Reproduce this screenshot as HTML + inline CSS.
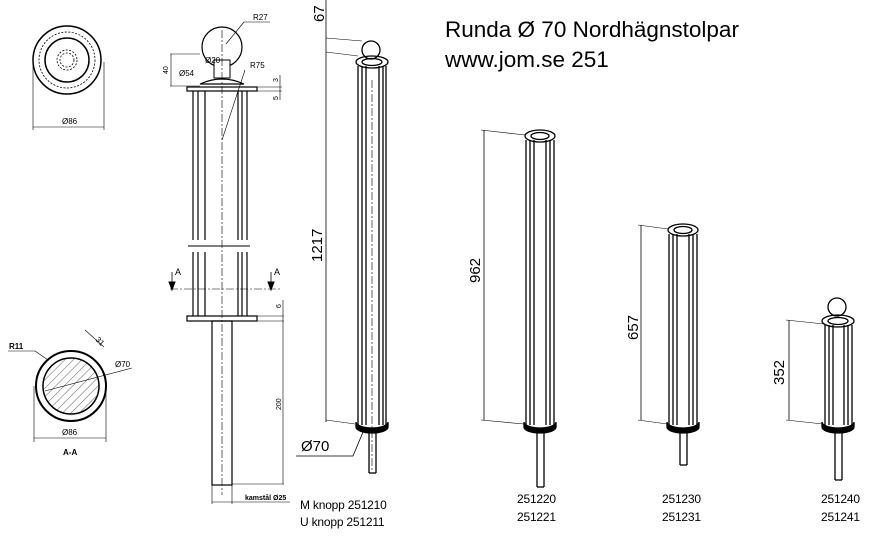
<!DOCTYPE html>
<html><head><meta charset="utf-8"><style>
html,body{margin:0;padding:0;background:#fff}
svg{display:block}
</style></head><body>
<svg width="879" height="538" viewBox="0 0 879 538" xmlns="http://www.w3.org/2000/svg" font-family="Liberation Sans, sans-serif" stroke="#000" fill="none" stroke-width="1">
<!-- top view -->
<circle cx="67" cy="60" r="34" stroke-width="1.5"/>
<circle cx="67" cy="60" r="28" stroke-dasharray="2,1.5" stroke-width="0.8"/>
<circle cx="67" cy="60" r="22" stroke-width="1.5"/>
<circle cx="67" cy="60" r="10" stroke-dasharray="2,1.5" stroke-width="0.8"/>
<circle cx="67" cy="60" r="7" stroke-dasharray="2,1.5" stroke-width="0.8"/>
<line x1="33" y1="62" x2="33" y2="130" stroke-width="0.6"/><line x1="104" y1="62" x2="104" y2="130" stroke-width="0.6"/>
<line x1="33" y1="127" x2="104" y2="127" stroke-width="0.6"/>
<text x="62" y="124" font-size="8" fill="#000" stroke="none">Ø86</text>
<!-- section A-A -->
<circle cx="71" cy="386" r="35" stroke-width="2"/>
<defs><pattern id="h" width="6" height="6" patternUnits="userSpaceOnUse" patternTransform="rotate(45)"><line x1="0" y1="0" x2="0" y2="6" stroke="#000" stroke-width="0.6"/></pattern></defs>
<circle cx="71" cy="386" r="28" fill="url(#h)" stroke-width="1.5"/>
<line x1="34" y1="386" x2="34" y2="442" stroke-width="0.6"/><line x1="106" y1="386" x2="106" y2="442" stroke-width="0.6"/>
<line x1="34" y1="438" x2="106" y2="438" stroke-width="0.6"/>
<text x="62" y="435" font-size="8" fill="#000" stroke="none">Ø86</text>
<text x="63" y="455" font-size="8" font-weight="bold" fill="#000" stroke="none">A-A</text>
<line x1="8" y1="351" x2="35" y2="351" stroke-width="0.6"/><line x1="35" y1="351" x2="48" y2="360" stroke-width="0.6"/>
<text x="9" y="349" font-size="8" font-weight="bold" fill="#000" stroke="none">R11</text>
<line x1="85" y1="330" x2="104" y2="347" stroke-width="0.6"/><line x1="45" y1="391" x2="132" y2="368" stroke-width="0.6"/>
<text x="115" y="367" font-size="8" fill="#000" stroke="none">Ø70</text>
<text x="95" y="340" font-size="8" fill="#000" stroke="none" transform="rotate(45 95 340)">31</text>
<!-- front view -->
<circle cx="222" cy="47" r="20" stroke-width="1.2"/>
<rect x="214" y="60" width="16" height="18" fill="#fff"/>
<path d="M200 84 Q222 74 244 84 Z" stroke-width="1.2"/>
<rect x="187" y="87" width="70" height="4" stroke-width="1.2"/>
<g stroke-width="1.2">
<line x1="193" y1="91" x2="193" y2="316"/><line x1="198" y1="91" x2="198" y2="316"/>
<line x1="205" y1="91" x2="205" y2="316"/>
<line x1="238" y1="91" x2="238" y2="316"/><line x1="242" y1="91" x2="242" y2="316"/><line x1="247" y1="91" x2="247" y2="316"/>
</g>
<rect x="188" y="240" width="60" height="12" fill="#fff" stroke="none"/>
<path d="M188 246 L250 246" stroke-width="1"/>
<rect x="187" y="316" width="70" height="5" stroke-width="1.2"/>
<rect x="212" y="321" width="20" height="164" stroke-width="1.2"/>
<line x1="222" y1="30" x2="222" y2="495" stroke-width="0.6" stroke-dasharray="8,2,2,2"/>
<line x1="170" y1="289" x2="280" y2="289" stroke-width="0.6" stroke-dasharray="8,2,2,2"/>
<line x1="172" y1="272" x2="172" y2="289" stroke-width="0.8"/><path d="M169 282 L175 282 L172 290Z" fill="#000"/>
<line x1="271" y1="272" x2="271" y2="289" stroke-width="0.8"/><path d="M268 282 L274 282 L271 290Z" fill="#000"/>
<text x="175" y="275" font-size="9" fill="#000" stroke="none">A</text><text x="274" y="275" font-size="9" fill="#000" stroke="none">A</text>
<line x1="244" y1="22" x2="270" y2="22" stroke-width="0.6"/><line x1="244" y1="22" x2="226" y2="44" stroke-width="0.6"/>
<text x="253" y="20" font-size="8" fill="#000" stroke="none">R27</text>
<text x="205" y="63" font-size="8" fill="#000" stroke="none">Ø20</text>
<text x="179" y="76" font-size="8" fill="#000" stroke="none">Ø54</text>
<text x="250" y="68" font-size="8" fill="#000" stroke="none">R75</text>
<line x1="245" y1="70" x2="222" y2="140" stroke-width="0.6"/>
<line x1="170" y1="54" x2="200" y2="54" stroke-width="0.6"/><line x1="170" y1="86" x2="200" y2="86" stroke-width="0.6"/><line x1="171" y1="54" x2="171" y2="86" stroke-width="0.6"/>
<text x="168" y="74" font-size="7" fill="#000" stroke="none" transform="rotate(-90 168 74)">40</text>
<line x1="257" y1="87" x2="282" y2="87" stroke-width="0.6"/><line x1="257" y1="91" x2="282" y2="91" stroke-width="0.6"/><line x1="280" y1="75" x2="280" y2="100" stroke-width="0.6"/>
<text x="278" y="82" font-size="7" fill="#000" stroke="none" transform="rotate(-90 278 82)">3</text>
<text x="278" y="100" font-size="7" fill="#000" stroke="none" transform="rotate(-90 278 100)">5</text>
<line x1="257" y1="316" x2="284" y2="316" stroke-width="0.6"/><line x1="257" y1="321" x2="284" y2="321" stroke-width="0.6"/><line x1="232" y1="484" x2="284" y2="484" stroke-width="0.6"/>
<line x1="283" y1="300" x2="283" y2="484" stroke-width="0.6"/>
<text x="281" y="308" font-size="7" fill="#000" stroke="none" transform="rotate(-90 281 308)">6</text>
<text x="281" y="410" font-size="7" fill="#000" stroke="none" transform="rotate(-90 281 410)">200</text>
<line x1="212" y1="485" x2="212" y2="504" stroke-width="0.6"/><line x1="232" y1="485" x2="232" y2="504" stroke-width="0.6"/>
<line x1="212" y1="502" x2="290" y2="502" stroke-width="0.6"/>
<text x="245" y="500" font-size="7" font-weight="bold" fill="#000" stroke="none">kamstål Ø25</text>
<!-- post 1 -->
<g stroke-width="1.3">
<circle cx="371" cy="50" r="9"/>
<ellipse cx="372" cy="62" rx="16" ry="6"/><ellipse cx="372" cy="62" rx="10" ry="3.5"/>
<line x1="358" y1="66" x2="358" y2="425"/><line x1="362" y1="66" x2="362" y2="425"/><line x1="366" y1="66" x2="366" y2="425"/>
<line x1="379" y1="66" x2="379" y2="425"/><line x1="383" y1="66" x2="383" y2="425"/><line x1="386" y1="66" x2="386" y2="425"/>
<path d="M356 422 A16 6 0 0 0 388 422 L388 427 A16 6 0 0 1 356 427Z" fill="#000"/>
<line x1="369" y1="432" x2="369" y2="473"/><line x1="376" y1="432" x2="376" y2="473"/><line x1="369" y1="473" x2="376" y2="473"/>
</g>
<line x1="372" y1="80" x2="372" y2="470" stroke-width="0.6" stroke-dasharray="8,2,2,2"/>
<line x1="326" y1="0" x2="326" y2="422" stroke-width="0.8"/>
<line x1="326" y1="38" x2="362" y2="41" stroke-width="0.6"/><line x1="326" y1="52" x2="358" y2="56" stroke-width="0.6"/><line x1="326" y1="420" x2="355" y2="424" stroke-width="0.6"/>
<text x="324" y="22" font-size="15" fill="#000" stroke="none" transform="rotate(-90 324 22)">67</text>
<text x="322" y="262" font-size="15" fill="#000" stroke="none" transform="rotate(-90 322 262)">1217</text>
<text x="301" y="451" font-size="15" fill="#000" stroke="none">Ø70</text>
<polyline points="296,456 353,456 363,432" stroke-width="0.8"/>
<!-- post 2 -->
<g stroke-width="1.3">
<ellipse cx="540" cy="136" rx="15" ry="6"/><ellipse cx="540" cy="136" rx="9" ry="3.5"/>
<line x1="526" y1="140" x2="526" y2="425"/><line x1="530" y1="140" x2="530" y2="425"/><line x1="534" y1="140" x2="534" y2="425"/>
<line x1="546" y1="140" x2="546" y2="425"/><line x1="550" y1="140" x2="550" y2="425"/><line x1="554" y1="140" x2="554" y2="425"/>
<path d="M524 422 A16 6 0 0 0 556 422 L556 427 A16 6 0 0 1 524 427Z" fill="#000"/>
<line x1="537" y1="432" x2="537" y2="487"/><line x1="544" y1="432" x2="544" y2="487"/><line x1="537" y1="487" x2="544" y2="487"/>
</g>
<line x1="484" y1="130" x2="484" y2="420" stroke-width="0.8"/>
<line x1="481" y1="130" x2="525" y2="135" stroke-width="0.6"/><line x1="481" y1="420" x2="524" y2="424" stroke-width="0.6"/>
<text x="480" y="283" font-size="15" fill="#000" stroke="none" transform="rotate(-90 480 283)">962</text>
<!-- post 3 -->
<g stroke-width="1.3">
<ellipse cx="683" cy="230" rx="15" ry="6"/><ellipse cx="683" cy="230" rx="9" ry="3.5"/>
<line x1="669" y1="234" x2="669" y2="425"/><line x1="673" y1="234" x2="673" y2="425"/><line x1="677" y1="234" x2="677" y2="425"/>
<line x1="689" y1="234" x2="689" y2="425"/><line x1="693" y1="234" x2="693" y2="425"/><line x1="697" y1="234" x2="697" y2="425"/>
<path d="M667 422 A16 6 0 0 0 699 422 L699 427 A16 6 0 0 1 667 427Z" fill="#000"/>
<line x1="680" y1="432" x2="680" y2="465"/><line x1="687" y1="432" x2="687" y2="465"/><line x1="680" y1="465" x2="687" y2="465"/>
</g>
<line x1="641" y1="225" x2="641" y2="420" stroke-width="0.8"/>
<line x1="638" y1="225" x2="668" y2="229" stroke-width="0.6"/><line x1="638" y1="420" x2="667" y2="424" stroke-width="0.6"/>
<text x="638" y="340" font-size="15" fill="#000" stroke="none" transform="rotate(-90 638 340)">657</text>
<!-- post 4 -->
<g stroke-width="1.3">
<circle cx="837" cy="307" r="9"/>
<ellipse cx="838" cy="321" rx="16" ry="6"/><ellipse cx="838" cy="321" rx="10" ry="3.5"/>
<line x1="825" y1="325" x2="825" y2="425"/><line x1="829" y1="325" x2="829" y2="425"/><line x1="833" y1="325" x2="833" y2="425"/>
<line x1="844" y1="325" x2="844" y2="425"/><line x1="848" y1="325" x2="848" y2="425"/><line x1="852" y1="325" x2="852" y2="425"/>
<path d="M822 422 A16 6 0 0 0 854 422 L854 427 A16 6 0 0 1 822 427Z" fill="#000"/>
<line x1="835" y1="432" x2="835" y2="480"/><line x1="842" y1="432" x2="842" y2="480"/><line x1="835" y1="480" x2="842" y2="480"/>
</g>
<line x1="789" y1="320" x2="789" y2="420" stroke-width="0.8"/>
<line x1="786" y1="320" x2="824" y2="324" stroke-width="0.6"/><line x1="786" y1="420" x2="823" y2="424" stroke-width="0.6"/>
<text x="784" y="385" font-size="15" fill="#000" stroke="none" transform="rotate(-90 784 385)">352</text>
<!-- titles -->
<g fill="#000" stroke="none" font-size="22.5">
<text x="445" y="37">Runda Ø 70 Nordhägnstolpar</text>
<text x="445" y="67">www.jom.se 251</text>
</g>
<g fill="#000" stroke="none" font-size="12" letter-spacing="-0.2">
<text x="300" y="509">M knopp  251210</text>
<text x="300" y="526">U knopp  251211</text>
<text x="517" y="503">251220</text><text x="517" y="521">251221</text>
<text x="662" y="503">251230</text><text x="662" y="521">251231</text>
<text x="821" y="503">251240</text><text x="821" y="521">251241</text>
</g>
</svg>
</body></html>
